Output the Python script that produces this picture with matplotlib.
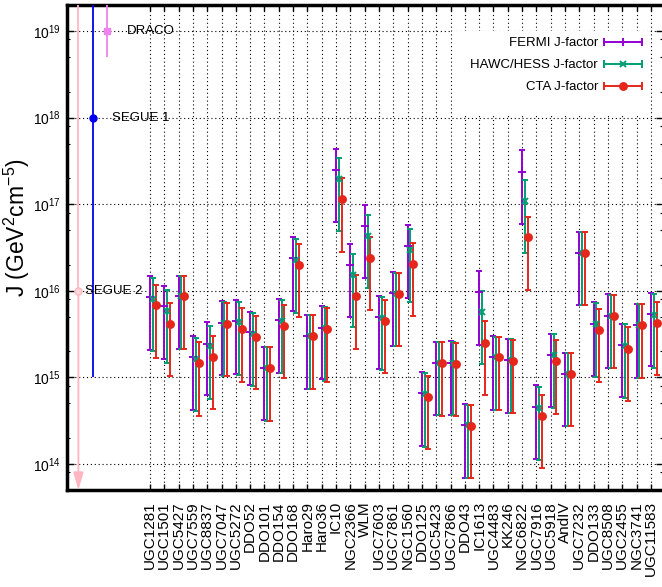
import numpy as np
import matplotlib
matplotlib.use('Agg')
import matplotlib.pyplot as plt
from matplotlib.lines import Line2D
from matplotlib.legend_handler import HandlerLine2D, HandlerTuple
from matplotlib.ticker import LogLocator, NullFormatter
from matplotlib.patches import Rectangle

plt.rcParams['font.family'] = ['Liberation Sans', 'DejaVu Sans']
plt.rcParams['mathtext.fontset'] = 'custom'
plt.rcParams['mathtext.rm'] = 'Liberation Sans'
plt.rcParams['mathtext.it'] = 'Liberation Sans:italic'
plt.rcParams['mathtext.bf'] = 'Liberation Sans:bold'

galaxies = ['UGC1281', 'UGC1501', 'UGC5427', 'UGC7559', 'UGC8837', 'UGC7047',
            'UGC5272', 'DDO52', 'DDO101', 'DDO154', 'DDO168', 'Haro29', 'Haro36',
            'IC10', 'NGC2366', 'WLM', 'UGC7603', 'UGC7861', 'NGC1560', 'DDO125',
            'UGC5423', 'UGC7866', 'DDO43', 'IC1613', 'UGC4483', 'KK246', 'NGC6822',
            'UGC7916', 'UGC5918', 'AndIV', 'UGC7232', 'DDO133', 'UGC8508',
            'UGC2455', 'NGC3741', 'UGC11583']

# log10 J (GeV^2 cm^-5): central value, lower and upper end of the bar
fermi_c = [15.927, 15.820, 15.935, 15.230, 15.391, 15.628, 15.648, 15.521, 15.111, 15.659,
           16.375, 15.475, 15.575, 17.399, 16.299, 16.751, 15.693, 15.973, 16.521, 14.816,
           15.169, 15.169, 14.448, 15.981, 15.230, 15.199, 17.376, 14.663, 15.257, 15.035,
           16.437, 15.621, 15.713, 15.372, 15.602, 15.728]
fermi_lo = [15.322, 15.215, 15.330, 14.625, 14.793, 15.027, 15.042, 14.912, 14.506, 15.054,
            15.762, 14.870, 14.977, 16.793, 15.697, 16.146, 15.092, 15.368, 15.920, 14.211,
            14.563, 14.571, 13.843, 15.379, 14.628, 14.594, 16.774, 14.058, 14.659, 14.437,
            15.831, 15.015, 15.107, 14.770, 14.996, 15.127]
fermi_hi = [16.172, 16.061, 16.176, 15.475, 15.636, 15.877, 15.889, 15.759, 15.356, 15.904,
            16.617, 15.720, 15.820, 17.636, 16.544, 16.992, 15.935, 16.215, 16.766, 15.061,
            15.410, 15.421, 14.693, 16.226, 15.479, 15.441, 17.621, 14.908, 15.506, 15.280,
            16.682, 15.866, 15.958, 15.621, 15.851, 15.973]

hess_c = [15.908, 15.770, 15.935, 15.215, 15.360, 15.628, 15.636, 15.506, 15.111, 15.655,
          16.356, 15.475, 15.567, 17.291, 16.188, 16.632, 15.686, 15.966, 16.471, 14.805,
          15.169, 15.169, 14.448, 15.759, 15.230, 15.199, 17.035, 14.648, 15.257, 15.035,
          16.437, 15.613, 15.713, 15.368, 15.602, 15.716]
hess_lo = [15.303, 15.169, 15.330, 14.609, 14.755, 15.019, 15.027, 14.900, 14.498, 15.046,
           15.747, 14.870, 14.962, 16.690, 15.586, 16.027, 15.084, 15.360, 15.866, 14.199,
           14.563, 14.563, 13.843, 15.157, 14.621, 14.594, 16.437, 14.042, 14.648, 14.437,
           15.831, 15.008, 15.104, 14.762, 14.996, 15.107]
hess_hi = [16.150, 16.012, 16.176, 15.460, 15.598, 15.870, 15.874, 15.743, 15.349, 15.897,
           16.602, 15.720, 15.812, 17.536, 16.429, 16.877, 15.923, 16.207, 16.713, 15.046,
           15.410, 15.414, 14.686, 16.000, 15.471, 15.441, 17.276, 14.889, 15.498, 15.280,
           16.682, 15.854, 15.954, 15.613, 15.851, 15.958]

cta_c = [15.831, 15.621, 15.935, 15.161, 15.230, 15.613, 15.556, 15.464, 15.104, 15.594,
         16.299, 15.475, 15.556, 17.058, 15.935, 16.379, 15.655, 15.966, 16.310, 14.774,
         15.161, 15.157, 14.441, 15.402, 15.230, 15.195, 16.617, 14.559, 15.188, 15.035,
         16.437, 15.548, 15.705, 15.333, 15.602, 15.628]
cta_lo = [15.226, 15.015, 15.330, 14.556, 14.632, 15.012, 14.950, 14.862, 14.498, 14.989,
          15.693, 14.870, 14.946, 16.452, 15.333, 15.774, 15.046, 15.360, 15.705, 14.172,
          14.556, 14.552, 13.835, 14.797, 14.621, 14.586, 16.012, 13.954, 14.582, 14.437,
          15.831, 14.943, 15.104, 14.728, 14.996, 15.023]
cta_hi = [16.073, 15.862, 16.176, 15.406, 15.475, 15.854, 15.797, 15.705, 15.349, 15.835,
          16.540, 15.720, 15.797, 17.299, 16.180, 16.625, 15.897, 16.207, 16.552, 15.015,
          15.410, 15.398, 14.686, 15.648, 15.471, 15.437, 16.858, 14.801, 15.429, 15.280,
          16.682, 15.793, 15.950, 15.579, 15.851, 15.874]

# dwarf spheroidals shown on the left
dsph_names = ['SEGUE 2', 'SEGUE 1', 'DRACO']
dsph_j = [1e16, 1e18, 1e19]
dsph_lo = [5e13, 1e15, 5e18]
dsph_hi = [1e20, 1e20, 1e20]

fig = plt.figure(figsize=(6.62, 5.87), dpi=100)
ax = fig.add_axes([0.1005, 0.1652, 0.9015, 0.8262])

x = np.arange(len(galaxies))

series = [
    ('FERMI J-factor', fermi_c, fermi_lo, fermi_hi, '#9400d3', '+', 0.0, 6),
    ('HAWC/HESS J-factor', hess_c, hess_lo, hess_hi, '#009e73', 'x', 0.2, 4.5),
    ('CTA J-factor', cta_c, cta_lo, cta_hi, '#e6261a', 'o', 0.4, 5),
]

handles = []
hmap = {}
for label, c, lo, hi, col, mk, off, ms in series:
    c = 10 ** np.array(c)
    lo = 10 ** np.array(lo)
    hi = 10 ** np.array(hi)
    ax.errorbar(x + off, c, yerr=[c - lo, hi - c], fmt=mk, color=col,
                ms=ms, mew=1.4, elinewidth=1.4, capsize=2.5, capthick=1.4, zorder=3)
    caps = Line2D([], [], color=col, lw=1.4, marker='|', ms=6, mew=1.4)
    mid = Line2D([], [], color=col, ls='none', marker=mk, ms=ms, mew=1.4)
    hmap[caps] = HandlerLine2D(numpoints=2, marker_pad=0)
    handles.append((caps, mid))
hmap[tuple] = HandlerTuple(ndivide=1)

# dSph points
dx = np.arange(-5, -2)
dcol = ['#ffb6c1', '#0000f0', '#ee82ee']
dmk = ['o', 'o', 's']
for i in range(3):
    ax.vlines(dx[i], dsph_j[i] if i == 0 else dsph_lo[i], dsph_hi[i],
              color=dcol[i], lw=1.3, zorder=3)
    mfc = '#ffd6dc' if i == 0 else dcol[i]
    ax.plot(dx[i], dsph_j[i], marker=dmk[i], ms=5, color=dcol[i], mfc=mfc, zorder=4)
ax.annotate('', xy=(dx[0], dsph_lo[0]), xytext=(dx[0], dsph_j[0]),
            arrowprops=dict(arrowstyle='-|>,head_length=0.75,head_width=0.22',
                            color=dcol[0], lw=1.3, shrinkA=0, shrinkB=0,
                            mutation_scale=14), zorder=3)
offs = [5, 13.7, 14.4]
for i in range(3):
    ax.annotate(dsph_names[i], xy=(dx[i], dsph_j[i]), xytext=(offs[i], 0),
                textcoords='offset points', va='center', ha='left', fontsize=9.5)

ax.set_yscale('log')
ax.set_ylim(5e13, 2e19)
ax.set_xlim(-5.83, 35.87)
ax.set_xticks(x)
ax.set_xticklabels(galaxies, rotation=90, fontsize=11)
ax.yaxis.set_major_locator(LogLocator(base=10, numticks=20))
ax.yaxis.set_minor_locator(LogLocator(base=10, subs=(2, 5, 8), numticks=20))
ax.yaxis.set_minor_formatter(NullFormatter())
ax.tick_params(axis='y', which='major', labelsize=10, direction='in', length=5,
               width=1, left=True, right=True, pad=4)
ax.tick_params(axis='y', which='minor', direction='in', length=2.5, width=0.8,
               left=True, right=True)
ax.tick_params(axis='x', which='major', direction='in', length=4.5, width=1,
               top=True, bottom=True, pad=8)
ax.tick_params(axis='x', which='minor', bottom=False, top=False)

ax.set_axisbelow(True)
ax.grid(True, which='major', color='black', ls=(0, (1, 2.5)), lw=0.8)
for s in ax.spines.values():
    s.set_linewidth(2.5)

ax.set_ylabel(r'J (GeV$^2$cm$^{-5}$)', fontsize=16.5)
ax.yaxis.set_label_coords(-0.058, 0.54)

# white background of the key box
ax.add_patch(Rectangle((0.646, 0.771), 0.328, 0.175, transform=ax.transAxes,
                       facecolor='white', edgecolor='none', zorder=1.5))
leg = ax.legend(handles, [s[0] for s in series], handler_map=hmap,
                loc='upper right', bbox_to_anchor=(0.9744, 0.9464), borderaxespad=0,
                markerfirst=False, frameon=False, fontsize=9.5, handlelength=2.9,
                handletextpad=0.45, labelspacing=0.75, borderpad=0.45)
leg.set_zorder(5)

fig.savefig('out.png', dpi=100)
